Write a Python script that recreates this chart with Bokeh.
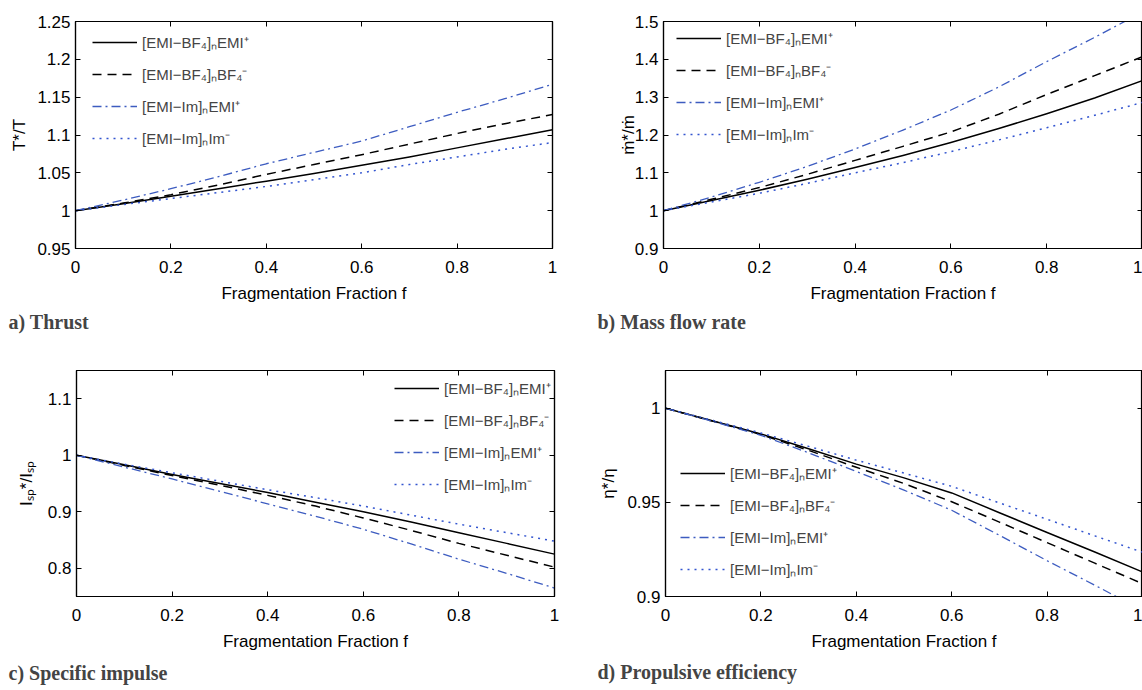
from bokeh.plotting import figure
from bokeh.layouts import column, row
from bokeh.models import Range1d, FixedTicker, LinearAxis, Title
from bokeh.embed import file_html
from bokeh.resources import INLINE

# ---------------- data (at f = 0, 0.1, ..., 1) ----------------
f = [0.0, 0.1, 0.2, 0.3, 0.4, 0.5, 0.6, 0.7, 0.8, 0.9, 1.0]
series_names = ["[EMI−BF₄]ₙEMI⁺", "[EMI−BF₄]ₙBF₄⁻", "[EMI−Im]ₙEMI⁺", "[EMI−Im]ₙIm⁻"]

thrust_bf4_emi = [1.0, 1.009, 1.019, 1.029, 1.039, 1.049, 1.060, 1.071, 1.083, 1.095, 1.107]
thrust_bf4_bf4 = [1.0, 1.010, 1.021, 1.034, 1.048, 1.061, 1.074, 1.088, 1.102, 1.115, 1.127]
thrust_im_emi = [1.0, 1.014, 1.029, 1.045, 1.062, 1.077, 1.092, 1.111, 1.130, 1.148, 1.167]
thrust_im_im = [1.0, 1.008, 1.016, 1.024, 1.032, 1.041, 1.050, 1.061, 1.071, 1.081, 1.090]

mdot_bf4_emi = [1.0, 1.027, 1.054, 1.083, 1.114, 1.146, 1.180, 1.217, 1.256, 1.298, 1.344]
mdot_bf4_bf4 = [1.0, 1.030, 1.061, 1.096, 1.133, 1.170, 1.208, 1.255, 1.307, 1.357, 1.407]
mdot_im_emi = [1.0, 1.036, 1.075, 1.117, 1.163, 1.213, 1.266, 1.327, 1.394, 1.458, 1.525]
mdot_im_im = [1.0, 1.023, 1.046, 1.072, 1.100, 1.127, 1.156, 1.187, 1.219, 1.252, 1.286]

isp_bf4_emi = [1.0, 0.983, 0.966, 0.950, 0.934, 0.917, 0.900, 0.882, 0.863, 0.844, 0.825]
isp_bf4_bf4 = [1.0, 0.982, 0.964, 0.947, 0.929, 0.910, 0.889, 0.867, 0.844, 0.823, 0.802]
isp_im_emi = [1.0, 0.979, 0.958, 0.936, 0.914, 0.892, 0.869, 0.843, 0.816, 0.791, 0.765]
isp_im_im = [1.0, 0.984, 0.969, 0.954, 0.939, 0.925, 0.910, 0.894, 0.878, 0.863, 0.848]

eta_bf4_emi = [1.0, 0.9932, 0.9863, 0.9785, 0.9703, 0.9630, 0.9550, 0.9445, 0.9340, 0.9236, 0.9130]
eta_bf4_bf4 = [1.0, 0.9930, 0.9860, 0.9776, 0.9686, 0.9600, 0.9503, 0.9395, 0.9286, 0.9177, 0.9068]
eta_im_emi = [1.0, 0.9929, 0.9856, 0.9763, 0.9664, 0.9565, 0.9458, 0.9325, 0.9190, 0.9060, 0.8926]
eta_im_im = [1.0, 0.9935, 0.9868, 0.9797, 0.9724, 0.9655, 0.9585, 0.9497, 0.9410, 0.9322, 0.9235]

x_ticks = [0, 0.2, 0.4, 0.6, 0.8, 1]
x_tick_labels = ["0", "0.2", "0.4", "0.6", "0.8", "1"]
thrust_yticks = [0.95, 1.0, 1.05, 1.1, 1.15, 1.2, 1.25]
thrust_ytick_labels = ["0.95", "1", "1.05", "1.1", "1.15", "1.2", "1.25"]
mdot_yticks = [0.9, 1.0, 1.1, 1.2, 1.3, 1.4, 1.5]
mdot_ytick_labels = ["0.9", "1", "1.1", "1.2", "1.3", "1.4", "1.5"]
isp_yticks = [0.8, 0.9, 1.0, 1.1]
isp_ytick_labels = ["0.8", "0.9", "1", "1.1"]
eta_yticks = [0.9, 0.95, 1.0]
eta_ytick_labels = ["0.9", "0.95", "1"]

# ---------------- styles ----------------
STYLES = [
    dict(line_color="black", line_dash="solid", line_width=1.5),
    dict(line_color="black", line_dash="9 6", line_width=1.5),
    dict(line_color="#3d5cc0", line_dash="9 4 2 4", line_width=1.3),
    dict(line_color="#3355d0", line_dash="2 5", line_width=1.5),
]
SANS = "Liberation Sans"


def make_panel(series, yr, yticks, ylabels, ylabel, caption, geom):
    p = figure(width=571, height=345, output_backend="svg", toolbar_location=None,
               x_range=Range1d(0, 1), y_range=Range1d(*yr), title_location=None,
               min_border_left=geom["left"], min_border_right=geom["right"],
               min_border_top=geom["top"], min_border_bottom=geom["bottom"],
               outline_line_color="black", outline_line_width=1.2,
               background_fill_color="white", border_fill_color="white")
    p.xgrid.visible = False
    p.ygrid.visible = False
    for s, name, st in zip(series, series_names, STYLES):
        p.line(f, s, legend_label=name, line_join="round", **st)

    p.add_layout(LinearAxis(), "above")
    p.add_layout(LinearAxis(), "right")
    xt = FixedTicker(ticks=x_ticks)
    yt = FixedTicker(ticks=yticks)
    for ax in p.xaxis:
        ax.ticker = xt
    for ax in p.yaxis:
        ax.ticker = yt
    for ax in p.axis:
        ax.axis_line_color = "black"
        ax.axis_line_width = 1.2
        ax.major_tick_in = 5
        ax.major_tick_out = 0
        ax.major_tick_line_color = "black"
        ax.minor_tick_line_color = None
        ax.major_label_text_font = SANS
        ax.major_label_text_font_size = "17px"
        ax.major_label_text_color = "black"
        ax.axis_label_text_font = SANS
        ax.axis_label_text_font_size = "17px"
        ax.axis_label_text_font_style = "normal"
        ax.axis_label_text_color = "black"
    for ax in (p.above[0], p.right[0]):
        ax.major_label_text_font_size = "0px"
        ax.major_label_text_color = None
        ax.major_label_standoff = 0

    bx = p.below[0]
    bx.major_label_overrides = dict(zip(x_ticks, x_tick_labels))
    bx.major_label_standoff = 12
    bx.axis_label = "Fragmentation Fraction f"
    bx.axis_label_standoff = 8
    ly = p.left[0]
    ly.major_label_overrides = dict(zip(yticks, ylabels))
    ly.major_label_standoff = 5
    ly.axis_label = ylabel
    ly.axis_label_standoff = geom["ylab_standoff"]

    lg = p.legend[0]
    lg.location = geom["legend"]
    lg.border_line_color = None
    lg.background_fill_alpha = 0
    lg.padding = 0
    lg.margin = 0
    lg.spacing = 12
    lg.glyph_width = 45
    lg.glyph_height = 20
    lg.label_height = 20
    lg.label_standoff = 5
    lg.label_text_font = SANS
    lg.label_text_font_size = "15px"

    p.add_layout(Title(text=caption, align="left", offset=geom["cap_offset"],
                       text_font="Liberation Serif", text_font_style="bold",
                       text_font_size="20px", standoff=geom["cap_standoff"]), "below")
    return p


pa = make_panel([thrust_bf4_emi, thrust_bf4_bf4, thrust_im_emi, thrust_im_im],
                (0.95, 1.25), thrust_yticks, thrust_ytick_labels, "T*/T", "a) Thrust",
                dict(left=75, right=19, top=21, bottom=96, legend=(17, 100), cap_offset=-67,
                     cap_standoff=6, ylab_standoff=5))
pb = make_panel([mdot_bf4_emi, mdot_bf4_bf4, mdot_im_emi, mdot_im_im],
                (0.9, 1.5), mdot_yticks, mdot_ytick_labels, "ṁ*/ṁ", "b) Mass flow rate",
                dict(left=92, right=0, top=16, bottom=97, legend=(13, 104), cap_offset=-66,
                     cap_standoff=6, ylab_standoff=-6))
pc = make_panel([isp_bf4_emi, isp_bf4_bf4, isp_im_emi, isp_im_im],
                (0.75, 1.15), isp_yticks, isp_ytick_labels, "Iₛₚ*/Iₛₚ", "c) Specific impulse",
                dict(left=76, right=17, top=25, bottom=94, legend=(318, 102), cap_offset=-68,
                     cap_standoff=13, ylab_standoff=9))
pd_ = make_panel([eta_bf4_emi, eta_bf4_bf4, eta_im_emi, eta_im_im],
                 (0.9, 1.02), eta_yticks, eta_ytick_labels, "η*/η", "d) Propulsive efficiency",
                 dict(left=94, right=0, top=20, bottom=92, legend=(15, 17), cap_offset=-68,
                      cap_standoff=11, ylab_standoff=6))

layout = column(row(pa, pb), row(pc, pd_))
open("out.html", "w").write(file_html(layout, INLINE))
